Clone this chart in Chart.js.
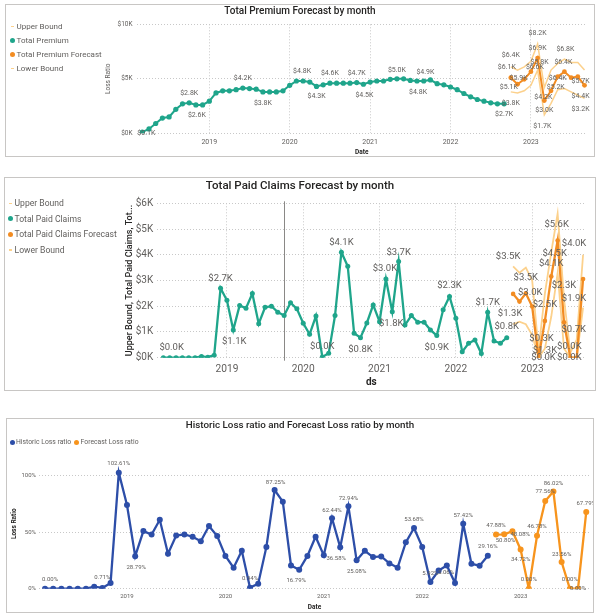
<!DOCTYPE html>
<html>
<head>
<meta charset="utf-8">
<title>Forecast by month</title>
<script src="https://cdn.jsdelivr.net/npm/chart.js@4.4.1/dist/chart.umd.min.js"></script>
<style>
  body { margin: 0; width: 600px; height: 616px; background: #fff; position: relative; overflow: hidden; font-family: Roboto, 'Segoe UI', sans-serif; }
  .box { position: absolute; border: 1px solid #c8c6c4; background: #fff; }
  .box canvas { position: absolute; left: 0; top: 0; }
  .legend { position: absolute; color: #605e5c; white-space: nowrap; }
  .legend .item { display: flex; align-items: center; }
  .legend .mk { width: 5px; height: 5px; display: flex; align-items: center; justify-content: center; margin-right: 1.5px; }
  .legend .dot { width: 5px; height: 5px; border-radius: 50%; }
  .legend .dash { width: 3px; height: 1.5px; }
  .legend.across { display: flex; }
  .legend.across .item { margin-right: 3px; }
</style>
</head>
<body>

<div class="box" style="left:5px;top:4px;width:588px;height:151px;">
  <canvas id="premiumChart" width="588" height="151"></canvas>
  <div class="legend" id="premiumLegend" style="left:4px;top:14.7px;font-size:8px;"></div>
</div>

<div class="box" style="left:4px;top:177px;width:590px;height:212px;">
  <canvas id="claimsChart" width="590" height="212"></canvas>
  <div class="legend" id="claimsLegend" style="left:3px;top:17.5px;font-size:8.6px;"></div>
</div>

<div class="box" style="left:6px;top:418px;width:586px;height:193px;">
  <canvas id="lossChart" width="586" height="193"></canvas>
  <div class="legend across" id="lossLegend" style="left:2.5px;top:19px;font-size:6.8px;"></div>
</div>

<script>
// months counted from Jan 2018; history starts Mar 2018, forecast Oct 2022
const firstHistMonth = 2;
const firstForecastMonth = 57;
const yearTicks = [12, 24, 36, 48, 60];
const yearNames = ['2019', '2020', '2021', '2022', '2023'];

// Total Premium ($K)
const premium = [0.1, 0.4, 0.9, 1.4, 1.5, 2.2, 2.7, 2.8, 2.6, 2.6, 2.95, 3.7, 3.9, 3.9, 4.0, 4.15, 4.1, 4.05, 3.8, 3.8,
  3.8, 3.9, 4.4, 4.8, 4.8, 4.7, 4.3, 4.45, 4.6, 4.6, 4.6, 4.6, 4.65, 4.5, 4.7, 4.8, 4.8, 4.95, 5.0, 5.0,
  4.85, 4.8, 4.8, 4.9, 4.55, 4.45, 4.25, 4.0, 3.65, 3.35, 3.1, 2.95, 2.8, 2.7, 2.7];
const premiumForecast = [5.1, 4.5, 4.95, 5.65, 6.9, 3.0, 3.9, 5.2, 5.65, 5.1, 5.2, 4.4];
const premiumUpper = [6.1, 5.8, 6.1, 6.6, 8.2, 4.2, 5.8, 6.4, 6.8, 6.5, 6.5, 5.8];
const premiumLower = [3.8, 3.7, 3.9, 4.4, 5.8, 1.7, 2.75, 4.0, 4.1, 3.8, 3.5, 3.2];
const premiumTicks = [0, 5, 10];

// Total Paid Claims ($K)
const claims = [0, 0, 0, 0, 0, 0, 0.05, 0.02, 0.1, 2.7, 2.23, 1.08, 2.03, 1.92, 2.49, 1.32, 1.96, 2.0, 1.77, 1.64,
  2.14, 1.9, 1.34, 0.91, 1.62, 0.03, 0.17, 1.64, 4.1, 3.55, 0.95, 0.78, 1.35, 2.05, 1.4, 3.06, 1.79, 3.74, 1.27, 1.64,
  1.38, 1.38, 1.08, 0.86, 1.86, 2.38, 1.53, 0.23, 0.56, 0.69, 0.16, 1.77, 0.65, 0.56, 0.78];
const claimsForecast = [2.48, 2.18, 2.5, 1.99, 0, 1.43, 3.16, 4.55, 1.38, 0, 0, 3.06];
const claimsUpper = [3.55, 3.3, 3.5, 3.0, 0.3, 2.5, 4.1, 5.6, 2.3, 0.2, 0.7, 4.0];
const claimsLower = [1.3, 1.4, 1.3, 0.88, 0, 0.36, 1.6, 3.3, 0.36, 0, 0, 1.95];
const claimsTicks = [0, 1, 2, 3, 4, 5, 6];
const claimsMarkerMonth = 21;

// Loss ratio (%)
const lossHistoric = [0, 0, 0, 0, 0, 0, 1.8, 0.71, 5.0, 102.61, 74, 28.79, 51, 48, 61, 31, 47, 48, 46, 42,
  55.5, 46.6, 29, 18.6, 33.6, 0.94, 4.4, 37, 87.25, 77, 20.6, 16.79, 29, 46, 29.5, 62.44, 36.58, 72.94, 25.08, 33.6,
  28, 28.6, 22.4, 18.6, 41, 53.68, 37, 5.92, 16, 20.6, 5.06, 57.42, 22, 20.4, 29.16];
const lossForecast = [47.88, 48.08, 50.80, 34.72, 0, 46.78, 77.56, 86.02, 23.56, 0, 0, 67.79];
const lossTicks = [0, 50, 100];

// data labels: [dataset, point, text, dx, dy]
const premiumLabels = [
  [1, 0, '$0.1K', 4, 1], [1, 7, '$2.8K', 0, -10], [1, 8, '$2.6K', 1, 10], [1, 15, '$4.2K', 0, -10],
  [1, 18, '$3.8K', 0, 11], [1, 24, '$4.8K', -1, -10], [1, 26, '$4.3K', 0, 10], [1, 28, '$4.6K', 0, -10],
  [1, 32, '$4.7K', 0, -9], [1, 33, '$4.5K', 1, 11], [1, 38, '$5.0K', 0, -9], [1, 41, '$4.8K', 1, 11],
  [1, 43, '$4.9K', -5, -8], [1, 54, '$2.7K', 0, 10], [3, 0, '$3.8K', 0, 11],
  [0, 0, '$6.4K', 0, -12], [0, 0, '$6.1K', -4, 0], [2, 0, '$5.1K', -2, 10], [2, 1, '$5.9K', 1, -6],
  [0, 3, '$6.6K', 4, 6], [0, 4, '$8.2K', 0, -11], [2, 4, '$6.9K', 0, -10], [3, 4, '$5.8K', 2, -8],
  [0, 5, '$4.2K', -1, 10], [2, 5, '$3.0K', 0, 10], [3, 5, '$1.7K', -2, 11], [2, 7, '$5.2K', -2, 11],
  [0, 7, '$6.4K', 0, 15], [2, 8, '$6.4K', -1, -9], [0, 8, '$6.8K', 1, -10],
  [0, 11, '$5.7K', -4, 11], [2, 11, '$4.4K', -4, 11], [3, 11, '$3.2K', -4, 11]
];
const claimsLabels = [
  [1, 1, '$0.0K', 2, -10], [1, 9, '$2.7K', 0, -10], [1, 11, '$1.1K', 1, 12], [1, 25, '$0.0K', 0, -10],
  [1, 28, '$4.1K', 0, -10], [1, 31, '$0.8K', 0, 12], [1, 35, '$3.0K', -1, -10], [1, 36, '$1.8K', -1, 12],
  [1, 37, '$3.7K', 0, -9], [1, 43, '$0.9K', 0, 12], [1, 45, '$2.3K', 0, -11], [1, 51, '$1.7K', 0, -10],
  [1, 54, '$0.8K', 0, -11],
  [0, 0, '$3.5K', -5, -10], [3, 0, '$1.3K', -3, -11], [0, 2, '$3.5K', 0, 10], [0, 3, '$3.0K', -2, 12],
  [0, 4, '$0.3K', 3, -11], [2, 4, '$0.0K', 5, 0], [0, 5, '$2.5K', 0, 11], [3, 5, '$1.3K', 0, 2],
  [0, 6, '$4.1K', 0, 11], [2, 7, '$4.5K', -3, 13], [0, 7, '$5.6K', -1, 11], [0, 8, '$2.3K', 0, -13],
  [2, 9, '$0.0K', -1, -11], [3, 9, '$0.0K', -1, 0], [0, 10, '$0.7K', -3, -10],
  [0, 11, '$4.0K', -9, -11], [3, 11, '$1.9K', -9, -9]
];
// [dataset, point, dx, dy] -- text comes from the value
const lossLabelSpots = [
  [0, 0, 5, -9], [0, 7, 0, -10], [0, 9, 0, -9], [0, 11, 1, 11], [0, 25, 0, -9], [0, 28, 1, -8],
  [0, 31, -3, 11], [0, 35, 0, -8], [0, 36, -4, 11], [0, 37, 0, -8], [0, 38, 0, 11], [0, 45, 0, -9],
  [0, 47, 0, -9], [0, 50, -9, -10], [0, 51, 0, -8], [0, 54, 0, -9],
  [1, 0, 0, -9], [1, 1, 16, 0], [1, 2, -7, 9], [1, 3, 0, 10], [1, 4, 0, -9], [1, 5, 0, -9],
  [1, 6, 0, -10], [1, 7, 0, -8], [1, 8, 0, -8], [1, 9, 0, -9], [1, 10, 0, 0], [1, 11, 0, -9]
];

const FONT = "Roboto, 'Segoe UI', sans-serif";
const C = {
  teal: '#1fa58b', orange: '#f28c22', bound: '#fcd18c', blue: '#2d4ea8', lossOrange: '#f7941d',
  text: '#605e5c', title: '#252423', grid: '#c8c8c8', marker: '#8a8886'
};
Chart.defaults.font.family = FONT;

const toPoints = (values, start) => values.map((v, i) => ({ x: start + i, y: v }));

function lineSet(label, values, start, color, width, radius, order) {
  return {
    label: label,
    data: toPoints(values, start),
    borderColor: color,
    backgroundColor: color,
    borderWidth: width,
    pointRadius: radius,
    pointHoverRadius: radius,
    pointBorderWidth: 0,
    tension: 0,
    order: order
  };
}

function labelPlugin(items, font) {
  return {
    id: 'pointLabels',
    afterDatasetsDraw(chart) {
      const ctx = chart.ctx;
      ctx.save();
      ctx.font = font;
      ctx.fillStyle = C.text;
      ctx.textAlign = 'center';
      ctx.textBaseline = 'middle';
      items.forEach(([ds, i, text, dx, dy]) => {
        const pt = chart.getDatasetMeta(ds).data[i];
        if (pt) ctx.fillText(text, pt.x + dx, pt.y + dy);
      });
      ctx.restore();
    }
  };
}

const markerPlugin = {
  id: 'monthMarker',
  beforeDatasetsDraw(chart) {
    const { ctx, chartArea, scales } = chart;
    const x = Math.round(scales.x.getPixelForValue(claimsMarkerMonth)) + 0.5;
    ctx.save();
    ctx.strokeStyle = C.marker;
    ctx.lineWidth = 1;
    ctx.beginPath();
    ctx.moveTo(x, chartArea.top - 2);
    ctx.lineTo(x, chartArea.bottom + 3);
    ctx.stroke();
    ctx.restore();
  }
};

function xAxis(min, max, o) {
  return {
    type: 'linear', min: min, max: max,
    afterBuildTicks: s => { s.ticks = yearTicks.map(v => ({ value: v })); },
    afterFit: s => { s.height = o.height; },
    ticks: { autoSkip: false, maxRotation: 0, padding: o.pad, color: C.text, font: { size: o.size },
      callback: v => yearNames[yearTicks.indexOf(v)] },
    grid: { display: o.grid, color: C.grid, drawTicks: false },
    border: { display: false, dash: [1, 2] },
    title: { display: true, text: o.title, color: C.title, font: { size: o.titleSize, weight: 'bold' },
      padding: { top: 0, bottom: o.titlePad } }
  };
}

function yAxis(max, tickValues, o) {
  return {
    min: 0, max: max,
    afterBuildTicks: s => { s.ticks = tickValues.map(v => ({ value: v })); },
    afterFit: s => { s.width = o.width; },
    ticks: { padding: o.pad, color: C.text, font: { size: o.size }, callback: o.fmt },
    grid: { color: C.grid, drawTicks: false },
    border: { display: false, dash: [1, 2] },
    title: { display: true, text: o.title, color: o.titleColor, font: { size: o.titleSize, weight: o.titleWeight },
      padding: { top: o.titleOffset, bottom: 0 } }
  };
}

function buildLegend(id, names, colors, kinds, rowHeight) {
  const el = document.getElementById(id);
  names.forEach((name, i) => {
    const item = document.createElement('div');
    item.className = 'item';
    if (rowHeight) item.style.height = rowHeight + 'px';
    const mk = document.createElement('span');
    mk.className = 'mk';
    const shape = document.createElement('span');
    shape.className = kinds[i];
    shape.style.background = colors[i];
    mk.appendChild(shape);
    item.appendChild(mk);
    item.appendChild(document.createTextNode(name));
    el.appendChild(item);
  });
}

buildLegend('premiumLegend', ['Upper Bound', 'Total Premium', 'Total Premium Forecast', 'Lower Bound'],
  [C.bound, C.teal, C.orange, C.bound], ['dash', 'dot', 'dot', 'dash'], 14);
buildLegend('claimsLegend', ['Upper Bound', 'Total Paid Claims', 'Total Paid Claims Forecast', 'Lower Bound'],
  [C.bound, C.teal, C.orange, C.bound], ['dash', 'dot', 'dot', 'dash'], 15.6);
buildLegend('lossLegend', ['Historic Loss ratio', 'Forecast Loss ratio'],
  [C.blue, C.lossOrange], ['dot', 'dot'], 8);

const common = { responsive: false, animation: false, events: [] };

new Chart(document.getElementById('premiumChart'), {
  type: 'line',
  data: { datasets: [
    lineSet('Upper Bound', premiumUpper, firstForecastMonth, C.bound, 1.5, 0, 3),
    lineSet('Total Premium', premium, firstHistMonth, C.teal, 2, 2.6, 1),
    lineSet('Total Premium Forecast', premiumForecast, firstForecastMonth, C.orange, 2, 2.4, 0),
    lineSet('Lower Bound', premiumLower, firstForecastMonth, C.bound, 1.5, 0, 2)
  ] },
  options: Object.assign({}, common, {
    layout: { padding: { left: 7, right: 7, top: 0, bottom: 0 } },
    plugins: {
      legend: { display: false }, tooltip: { enabled: false },
      title: { display: true, text: 'Total Premium Forecast by month', color: C.title,
        font: { size: 10, weight: '500', lineHeight: 1 }, padding: { top: 1, bottom: 8.3 } }
    },
    scales: {
      x: xAxis(1.15, 68.37, { height: 22.7, pad: 4.5, size: 7, grid: true, title: 'Date', titleSize: 6.5, titlePad: 0 }),
      y: yAxis(10, premiumTicks, { width: 123.6, pad: 4, size: 6.5, fmt: v => '$' + v + 'K',
        title: 'Loss Ratio', titleColor: C.text, titleSize: 6.5, titleWeight: 'normal', titleOffset: 91 })
    }
  }),
  plugins: [labelPlugin(premiumLabels, '7px ' + FONT)]
});

new Chart(document.getElementById('claimsChart'), {
  type: 'line',
  data: { datasets: [
    lineSet('Upper Bound', claimsUpper, firstForecastMonth, C.bound, 1.8, 0, 3),
    lineSet('Total Paid Claims', claims, firstHistMonth, C.teal, 2.3, 2.5, 1),
    lineSet('Total Paid Claims Forecast', claimsForecast, firstForecastMonth, C.orange, 2.3, 2.3, 0),
    lineSet('Lower Bound', claimsLower, firstForecastMonth, C.bound, 1.8, 0, 2)
  ] },
  options: Object.assign({}, common, {
    layout: { padding: { left: 9, right: 9, top: 0, bottom: 0 } },
    plugins: {
      legend: { display: false }, tooltip: { enabled: false },
      title: { display: true, text: 'Total Paid Claims Forecast by month', color: C.title,
        font: { size: 11.5, weight: '500', lineHeight: 1 }, padding: { top: 2.25, bottom: 11.55 } }
    },
    scales: {
      x: xAxis(0.96, 68.46, { height: 32.3, pad: 5.2, size: 10.2, grid: true, title: 'ds', titleSize: 10, titlePad: 2 }),
      y: yAxis(6, claimsTicks, { width: 142.7, pad: 3.5, size: 10, fmt: v => '$' + v + 'K',
        title: 'Upper Bound, Total Paid Claims, Tot...', titleColor: C.title, titleSize: 9, titleWeight: '500', titleOffset: 110.6 })
    }
  }),
  plugins: [markerPlugin, labelPlugin(claimsLabels, '9.5px ' + FONT)]
});

const lossSets = [lossHistoric, lossForecast];
const lossLabels = lossLabelSpots.map(([ds, i, dx, dy]) => [ds, i, lossSets[ds][i].toFixed(2) + '%', dx, dy]);

new Chart(document.getElementById('lossChart'), {
  type: 'line',
  data: { datasets: [
    lineSet('Historic Loss ratio', lossHistoric, firstHistMonth, C.blue, 2.3, 3, 1),
    lineSet('Forecast Loss ratio', lossForecast, firstForecastMonth, C.lossOrange, 2.3, 3, 0)
  ] },
  options: Object.assign({}, common, {
    layout: { padding: { left: 3, right: 3, top: 0, bottom: 0 } },
    plugins: {
      legend: { display: false }, tooltip: { enabled: false },
      title: { display: true, text: 'Historic Loss ratio and Forecast Loss ratio by month', color: C.title,
        font: { size: 9.8, weight: '500', lineHeight: 1 }, padding: { top: 2.1, bottom: 27.85 } }
    },
    scales: {
      x: xAxis(1.27, 68.46, { height: 23.3, pad: 3.7, size: 6, grid: false, title: 'Date', titleSize: 6.5, titlePad: 1.1 }),
      y: yAxis(115, lossTicks, { width: 29, pad: 3, size: 6, fmt: v => v + '%',
        title: 'Loss Ratio', titleColor: C.title, titleSize: 6.5, titleWeight: 'bold', titleOffset: 0 })
    }
  }),
  plugins: [labelPlugin(lossLabels, '6px ' + FONT)]
});
</script>
</body>
</html>
